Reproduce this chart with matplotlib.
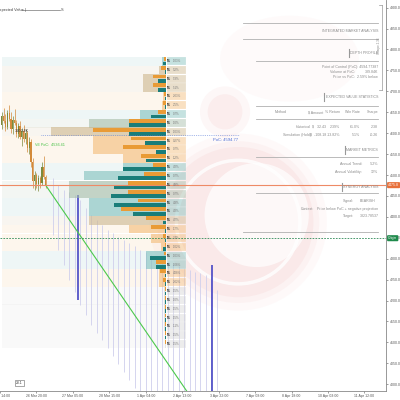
import matplotlib
matplotlib.use("Agg")
import matplotlib.pyplot as plt
from matplotlib.patches import Ellipse
from matplotlib.lines import Line2D

plt.rcParams['font.family'] = ['Liberation Sans', 'DejaVu Sans']

# ---- recent candles (bar index, OHLC) ----
candle_x = [0.5, 1.0, 1.5, 2.0, 2.5, 3.0, 3.5, 4.0, 4.5, 5.0, 5.5, 6.0, 6.5,
            7.0, 7.5, 8.0, 8.5, 9.0, 9.5, 10.0, 10.5, 11.0, 11.5, 12.0, 12.5]
candle_open = [4620, 4640, 4630, 4615, 4648, 4635, 4610, 4632, 4625, 4598, 4618, 4592, 4605,
               4585, 4600, 4565, 4580, 4530, 4485, 4500, 4478, 4492, 4480, 4520, 4495]
candle_high = [4650, 4660, 4645, 4655, 4668, 4650, 4640, 4658, 4632, 4625, 4630, 4612, 4620,
               4610, 4605, 4590, 4585, 4540, 4510, 4505, 4500, 4498, 4530, 4545, 4500]
candle_low = [4610, 4625, 4605, 4610, 4630, 4600, 4598, 4620, 4590, 4588, 4585, 4570, 4580,
              4575, 4555, 4550, 4520, 4470, 4465, 4468, 4462, 4470, 4476, 4490, 4470]
candle_close = [4640, 4630, 4615, 4648, 4635, 4610, 4632, 4625, 4598, 4618, 4592, 4605, 4585,
                4600, 4565, 4580, 4530, 4485, 4500, 4478, 4492, 4480, 4520, 4495, 4476]

# ---- simulated price ranges for future bars ----
sim_x = [14.5, 16.0, 17.5, 19.0, 20.5, 22.0, 23.5, 25.0, 26.5, 28.0, 29.5, 31.0, 32.5, 34.0,
         35.5, 37.0, 38.5, 40.0, 41.5, 43.0, 44.5, 46.0, 47.5, 49.0, 50.5, 52.0, 53.5, 55.0,
         56.5, 58.0, 59.5]
sim_high = [4493, 4476, 4464, 4459, 4452, 4440, 4421, 4404, 4392, 4380, 4368, 4361, 4352, 4345,
            4337, 4330, 4321, 4316, 4309, 4304, 4297, 4292, 4287, 4283, 4278, 4273, 4268, 4266,
            4261, 4256, 4225]
sim_low = [4357, 4321, 4285, 4249, 4220, 4189, 4165, 4141, 4122, 4106, 4087, 4067, 4048, 4029,
           4010, 3991, 3970, 3955, 3940, 3925, 3910, 3895, 3880, 3870, 3860, 3850, 3840, 3830,
           3820, 3810, 3800]
pct_x = [21.5, 58.1]
pct_high = [4452, 4285]
pct_low = [4201, 3950]

# ---- volume profile (K) ----
profile_price = [4772, 4751, 4730, 4709, 4688, 4667, 4645, 4624, 4603, 4582, 4561, 4540, 4519,
                 4498, 4476, 4455, 4434, 4413, 4392, 4371, 4349, 4328, 4307, 4286, 4265, 4244,
                 4222, 4201, 4180, 4159, 4138, 4117, 4096]
profile_sell = [7, 17, 44, 44, 7, 10, 27, 125, 248, 119, 146, 85, 44, 75, 129, 129, 95, 153, 68,
                51, 10, 3, 7, 34, 20, 10, 4, 3, 4, 3, 3, 2, 2]
profile_buy = [10, 3, 27, 27, 3, 3, 51, 125, 125, 71, 34, 68, 146, 163, 176, 187, 176, 112, 10,
               3, 3, 10, 54, 34, 3, 3, 2, 2, 3, 2, 2, 2, 1]
profile_total = [12, 24, 78, 78, 10, 12, 88, 261, 389.84, 248, 248, 146, 146, 278, 329, 329, 261,
                 261, 261, 125, 51, 17, 68, 68, 24, 24, 6, 5, 7, 5, 5, 4, 3]
profile_tone = ['teal', 'tan', 'tan', 'tan', 'peach', 'peach', 'teal', 'sage', 'tan', 'peach',
                'peach', 'peach', 'teal', 'teal', 'sage', 'sage', 'teal', 'teal', 'tan', 'peach',
                'peach', 'peach', 'teal', 'teal', 'peach', 'peach', 'grey', 'grey', 'grey', 'grey',
                'grey', 'grey', 'grey']
profile_pct = ['1.03%', '5.2%', '5.3%', '5.1%', '2.03%', '2.5%', '0.7%', '1.0%', '1.03%', '0.27%',
               '0.7%', '1.2%', '4.2%', '0.7%', '4.9%', '0.7%', '4.3%', '4.2%', '4.7%', '1.7%',
               '2.4%', '1.02%', '1.03%', '1.08%', '4.08%', '2.02%', '1.5%', '1.0%', '1.5%',
               '1.5%', '1.1%', '1.5%', '1.5%']

poc_price = 4594.77
ve_poc = 4536.41
last_price = 4475.8
origin_price = 4349.0
target_price = 3823.79
target_x = 63.8

xtick_pos = [0, 10, 20, 30, 40, 50, 60, 70, 80, 90, 100]
xtick_labels = ['25 Mar 14:00', '26 Mar 20:00', '27 Mar 05:00', '28 Mar 15:00', '1 Apr 04:00',
                '2 Apr 13:00', '3 Apr 22:00', '7 Apr 08:00', '8 Apr 18:00', '10 Apr 03:00',
                '11 Apr 12:00']
ytick_pos = list(range(4000, 4901, 50))

tone_color = {'teal': '#7fbfbc', 'tan': '#cdb68c', 'sage': '#a3bca8',
              'peach': '#f3bb76', 'grey': '#d5d5d5'}

fig = plt.figure(figsize=(4, 4), dpi=100)
fig.patch.set_facecolor('white')
ax = fig.add_axes([0, 9 / 400, 386 / 400, 391 / 400])
ax.set_xlim(0.44, 105.9)
ax.set_ylim(3983.8, 4918.3)

# watermark (soft, layered)
for w, a in [(0.46, 0.05), (0.42, 0.07), (0.39, 0.1)]:
    ax.add_patch(Ellipse((0.617, 0.432), w, w * 0.985, transform=ax.transAxes,
                         color='#ee9a9a', alpha=a, lw=0, zorder=0))
ax.add_patch(Ellipse((0.75, 0.85), 0.36, 0.22, transform=ax.transAxes,
                     color='#f8d6d6', alpha=0.1, lw=0, zorder=0))
ax.add_patch(Ellipse((0.665, 0.45), 0.27, 0.266, transform=ax.transAxes,
                     color='white', alpha=0.7, lw=0, zorder=0))
ax.add_patch(Ellipse((0.617, 0.432), 0.32, 0.316, transform=ax.transAxes, fill=False,
                     ec='white', lw=2.5, alpha=0.8, zorder=0))
for w, a in [(0.13, 0.05), (0.09, 0.07)]:
    ax.add_patch(Ellipse((0.583, 0.714), w, w, transform=ax.transAxes,
                         color='#e36a6a', alpha=a, lw=0, zorder=0))

anchor = 45.5
scale = 31.4 / max(profile_total)
h = 21.15
x0 = ax.get_xlim()[0]

# background bands
for p, t in zip(profile_price, profile_tone):
    ax.barh(p, anchor - x0, left=x0, height=h, color=tone_color[t], alpha=0.13, lw=0, zorder=1)

# simulated ranges
ax.vlines(sim_x, sim_low, sim_high, color='#cfcfec', lw=0.6, zorder=2)
ax.vlines(pct_x, pct_low, pct_high, color='#4646c4', lw=1.2, zorder=2)

# candles
for x, o, hi, lo, c in zip(candle_x, candle_open, candle_high, candle_low, candle_close):
    col = '#7c8a3c' if c >= o else '#d38a3a'
    ax.vlines(x, lo, hi, color=col, lw=0.5, zorder=5)
    ax.bar(x, max(abs(c - o), 1.5), bottom=min(o, c), width=0.32, color=col, lw=0, zorder=5)

# projection line
ax.plot([candle_x[-1], target_x], [candle_close[-1], target_price], color='#4cc94c', lw=0.8, zorder=6)

# profile
for p, s, b, tot, t, lab in zip(profile_price, profile_sell, profile_buy, profile_total,
                                profile_tone, profile_pct):
    ax.barh(p, tot * scale, left=anchor - tot * scale, height=h, color=tone_color[t],
            alpha=0.6, lw=0, zorder=3)
    ax.barh(p + h / 4, s * scale, left=anchor - s * scale, height=h / 2 - 1.5,
            color='#e99b36', lw=0, zorder=4)
    ax.barh(p - h / 4, b * scale, left=anchor - b * scale, height=h / 2 - 1.5,
            color='#1a7d79', lw=0, zorder=4)
    ax.barh(p, 5.2, left=anchor + 0.4, height=h - 1.5, color=tone_color[t], alpha=0.45,
            lw=0.3, ec='white', zorder=4)
    ax.text(anchor + 0.2, p, '5%', fontsize=1.9, fontweight='bold', color='#222',
            va='center', ha='left', zorder=7)
    ax.text(anchor + 2.0, p, lab, fontsize=2.1, color='#777', va='center', ha='left', zorder=7)

# levels
ax.axhline(last_price, color='#ee8a66', lw=0.8, zorder=6)
ax.axhline(origin_price, color='#2e8b57', lw=0.6, ls=(0, (2, 1.5)), zorder=6)
ax.plot([11.3, 65.5], [poc_price, poc_price], color='#5577d6', lw=0.5, ls=':', zorder=6)
ax.text(58.5, poc_price - 12, 'PoC: 4594.77', fontsize=3.0, color='#4a6cd4', va='center', zorder=7)
ax.text(9.6, ve_poc + 35, 'VE PoC:  4536.41', fontsize=2.7, color='#3fbf3f', va='center', zorder=7)
ax.text(4.2, 4606, '360.54K', fontsize=2.7, color='#333', va='center', zorder=7)
ax.text(5.3, 4003, '28.1', fontsize=2.4, color='#333', ha='center', va='center', zorder=7,
        bbox=dict(boxstyle='square,pad=0.3', fc='white', ec='#666', lw=0.4))

ax.annotate(f'{last_price:.1f}', xy=(1.0, last_price), xycoords=('axes fraction', 'data'),
            xytext=(1.5, 0), textcoords='offset points', fontsize=2.5, color='white',
            va='center', ha='left', annotation_clip=False, zorder=8,
            bbox=dict(boxstyle='round,pad=0.3', fc='#e8703a', ec='none'))
ax.annotate('Origin', xy=(1.0, origin_price), xycoords=('axes fraction', 'data'),
            xytext=(1.5, 0), textcoords='offset points', fontsize=2.5, color='white',
            va='center', ha='left', annotation_clip=False, zorder=8,
            bbox=dict(boxstyle='round,pad=0.3', fc='#1f8a4c', ec='none'))

# axes styling
ax.yaxis.tick_right()
ax.set_yticks(ytick_pos)
ax.set_yticklabels([f'{v:.1f}' for v in ytick_pos])
ax.set_xticks(xtick_pos)
ax.set_xticklabels(xtick_labels)
ax.tick_params(axis='both', labelsize=2.5, colors='#555', length=1.5, width=0.4, pad=1)
for side in ['top', 'left']:
    ax.spines[side].set_visible(False)
for side in ['bottom', 'right']:
    ax.spines[side].set_color('#888')
    ax.spines[side].set_linewidth(0.6)
ax.set_facecolor('none')


def fx(px):
    return px / 400


def fy(py):
    return 1 - py / 400


# legend top-left
fig.text(fx(-3), fy(10), 'Expected Value |', fontsize=2.8, color='#444', va='center')
fig.add_artist(Line2D([fx(22), fx(60)], [fy(10), fy(10)], color='#777', lw=0.5))
fig.text(fx(61), fy(10), 'S.', fontsize=2.8, color='#444', va='center')

# bracket near axis
fig.add_artist(Line2D([fx(382), fx(382)], [fy(5), fy(90)], color='#999', lw=0.5))
fig.add_artist(Line2D([fx(379), fx(382)], [fy(5), fy(5)], color='#999', lw=0.5))
fig.add_artist(Line2D([fx(379), fx(382)], [fy(90), fy(90)], color='#999', lw=0.5))
fig.text(fx(379), fy(46), 'Sharpe 2.38', fontsize=2.2, color='#888', rotation=90,
         ha='center', va='center')

# analysis panel
gray = '#8a8a8a'
fs = 2.6
for py, xa in [(23, 243), (39, 243), (61, 256), (106, 256), (119, 256), (157, 256),
               (193, 256), (232, 243)]:
    fig.add_artist(Line2D([fx(xa), fx(378)], [fy(py), fy(py)], color='#b0b0b0', lw=0.6))

fig.text(fx(378), fy(31), 'INTEGRATED MARKET ANALYSIS', fontsize=fs, color=gray, ha='right', va='center')


def section(py, title, bar_px):
    fig.add_artist(Line2D([fx(bar_px), fx(bar_px)], [fy(py - 4), fy(py + 4)], color='#999', lw=0.8))
    fig.text(fx(378), fy(py), title, fontsize=fs, color=gray, ha='right', va='center')


section(53, 'DEPTH PROFILE', 349)
fig.text(fx(378), fy(67), 'Point of Control (PoC): 4594.77387', fontsize=fs, color=gray, ha='right', va='center')
fig.text(fx(355), fy(72), 'Volume at PoC:', fontsize=fs, color=gray, ha='right', va='center')
fig.text(fx(378), fy(72), '389.84K', fontsize=fs, color=gray, ha='right', va='center')
fig.text(fx(355), fy(77), 'Price vs PoC:', fontsize=fs, color=gray, ha='right', va='center')
fig.text(fx(378), fy(77), '2.59% below', fontsize=fs, color=gray, ha='right', va='center')

section(97, 'EXPECTED VALUE STATISTICS', 324)
header = [(287, 'Method'), (323, '$ Amount'), (340, '% Return'), (360, 'Win Rate'), (378, 'Sharpe')]
for px, t in header:
    fig.text(fx(px), fy(112), t, fontsize=fs, color=gray, ha='right', va='center')
rows = [(127, ['Historical', '$   32.43', '2.39%', '61.0%', '2.38']),
        (135, ['Simulation (Hold)', '$  -108.18', '-13.82%', '5.1%', '-0.26'])]
for py, vals in rows:
    for px, v in zip([311, 326, 340, 360, 378], vals):
        fig.text(fx(px), fy(py), v, fontsize=fs, color=gray, ha='right', va='center')

section(150, 'MARKET METRICS', 345)
fig.text(fx(362), fy(164), 'Annual Trend:', fontsize=fs, color=gray, ha='right', va='center')
fig.text(fx(378), fy(164), '-52%', fontsize=fs, color=gray, ha='right', va='center')
fig.text(fx(362), fy(172), 'Annual Volatility:', fontsize=fs, color=gray, ha='right', va='center')
fig.text(fx(378), fy(172), '12%', fontsize=fs, color=gray, ha='right', va='center')

section(187, 'SYNERGY ANALYSIS', 342)
fig.text(fx(354), fy(201), 'Signal:', fontsize=fs, color=gray, ha='right', va='center')
fig.text(fx(360), fy(201), 'BEARISH', fontsize=fs, color=gray, ha='left', va='center')
fig.text(fx(314), fy(209), 'Context:', fontsize=fs, color=gray, ha='right', va='center')
fig.text(fx(378), fy(209), 'Price below PoC + negative projection', fontsize=fs, color=gray,
         ha='right', va='center')
fig.text(fx(354), fy(216), 'Target:', fontsize=fs, color=gray, ha='right', va='center')
fig.text(fx(360), fy(216), '3823.78537', fontsize=fs, color=gray, ha='left', va='center')

fig.savefig('out.png', dpi=100)
